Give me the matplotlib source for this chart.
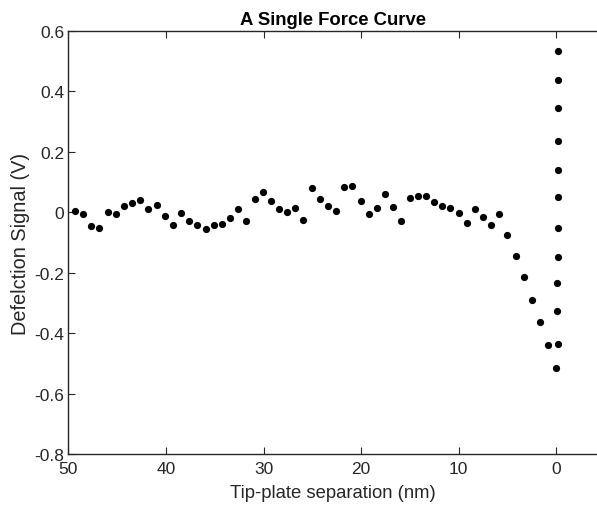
import matplotlib
matplotlib.use("Agg")
import matplotlib.pyplot as plt

# Retract trace: separation (nm) and deflection signal (V)
separation = [49.33, 48.49, 47.66, 46.82, 45.98, 45.15, 44.31, 43.47, 42.63, 41.80,
              40.96, 40.12, 39.29, 38.45, 37.61, 36.78, 35.94, 35.10, 34.27, 33.43,
              32.59, 31.76, 30.92, 30.08, 29.24, 28.41, 27.57, 26.73, 25.90, 25.06,
              24.22, 23.39, 22.55, 21.71, 20.88, 20.04, 19.20, 18.37, 17.53, 16.69,
              15.85, 15.02, 14.18, 13.34, 12.51, 11.67, 10.83, 10.00, 9.16, 8.32,
              7.49, 6.65, 5.81, 4.98, 4.14, 3.30, 2.46, 1.63, 0.79]
deflection = [0.003, -0.006, -0.046, -0.053, 0.000, -0.005, 0.021, 0.032, 0.042, 0.011,
              0.023, -0.012, -0.042, -0.001, -0.030, -0.043, -0.056, -0.043, -0.039, -0.018,
              0.010, -0.029, 0.043, 0.066, 0.038, 0.011, 0.002, 0.013, -0.026, 0.080,
              0.044, 0.020, 0.003, 0.083, 0.087, 0.036, -0.005, 0.015, 0.061, 0.019,
              -0.028, 0.046, 0.053, 0.054, 0.033, 0.020, 0.013, -0.003, -0.034, 0.011,
              -0.017, -0.041, -0.006, -0.076, -0.144, -0.214, -0.289, -0.364, -0.440]

# Contact region near zero separation
contact_sep = [-0.24, -0.24, -0.24, -0.23, -0.24, -0.22, -0.24, -0.24, -0.13, -0.07, -0.17, -0.03]
contact_defl = [0.533, 0.439, 0.346, 0.236, 0.140, 0.052, -0.053, -0.147, -0.234, -0.328, -0.436, -0.516]

x_ticks = [50, 40, 30, 20, 10, 0]
y_ticks = [0.6, 0.4, 0.2, 0, -0.2, -0.4, -0.6, -0.8]
y_tick_labels = ["0.6", "0.4", "0.2", "0", "-0.2", "-0.4", "-0.6", "-0.8"]

plt.rcParams["font.family"] = ["Liberation Sans", "DejaVu Sans"]
axis_color = "#262626"

fig = plt.figure(figsize=(5.97, 5.06), dpi=100)
ax = fig.add_axes([0.1147, 0.1008, 0.8853, 0.836])

ax.plot(separation + contact_sep, deflection + contact_defl, "o",
        color="black", markersize=5.2, markeredgewidth=0, linestyle="none")

ax.set_xlim(50, -4.2)
ax.set_ylim(-0.8, 0.6)
ax.set_xticks(x_ticks)
ax.set_yticks(y_ticks)
ax.set_yticklabels(y_tick_labels)

for side in ("left", "bottom", "top"):
    ax.spines[side].set_color(axis_color)
    ax.spines[side].set_linewidth(1.0)
ax.spines["right"].set_visible(False)

ax.tick_params(axis="both", direction="in", length=5, width=0.8, color=axis_color,
               labelcolor=axis_color, labelsize=12.5, top=True, right=False)
ax.tick_params(axis="x", pad=5)
ax.tick_params(axis="y", pad=3)

ax.set_xlabel("Tip-plate separation (nm)", fontsize=13.3, color=axis_color, labelpad=6)
ax.set_ylabel("Defelction Signal (V)", fontsize=14.3, color=axis_color, labelpad=3)
ax.set_title("A Single Force Curve", fontsize=13.3, fontweight="bold", color="black", pad=5)

fig.savefig("out.png", dpi=100)
